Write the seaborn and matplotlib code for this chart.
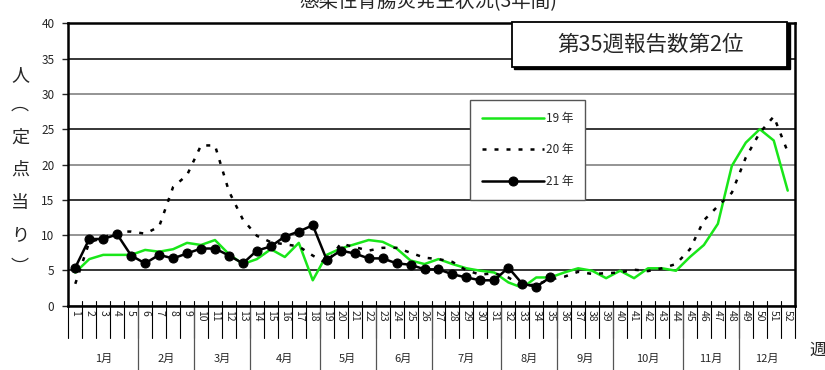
import numpy as np
import pandas as pd
import matplotlib
matplotlib.use("Agg")
import matplotlib.pyplot as plt
import seaborn as sns
from matplotlib.patches import Rectangle

# データ(定点当り報告数)
weeks = list(range(1, 53))
y19 = [4.7, 6.6, 7.2, 7.2, 7.2, 7.9, 7.65, 8.0, 8.9, 8.6,
       9.3, 7.3, 5.9, 6.6, 8.0, 6.9, 8.9, 3.6, 7.2, 8.1,
       8.7, 9.3, 9.05, 8.1, 6.4, 5.9, 6.6, 5.9, 5.3, 4.95,
       4.7, 3.3, 2.55, 4.0, 4.0, 4.7, 5.3, 4.95, 3.9, 4.95,
       3.9, 5.3, 5.3, 4.95, 6.9, 8.6, 11.6, 19.8, 23.1, 25.0,
       23.4, 16.3]
y20 = [3.1, 9.0, 9.6, 10.5, 10.5, 10.2, 11.2, 16.8, 18.5, 22.7,
       22.7, 16.2, 12.2, 9.9, 9.0, 8.7, 8.4, 7.1, 6.0, 8.8,
       8.3, 7.8, 8.2, 8.2, 7.5, 6.8, 6.6, 6.2, 5.0, 4.4,
       4.6, 4.0, 2.8, 3.0, 3.7, 4.1, 4.8, 4.5, 4.6, 4.7,
       5.1, 4.9, 5.3, 5.9, 8.0, 12.1, 14.1, 16.0, 21.0, 24.5,
       26.8, 21.8]
y21 = [5.4, 9.45, 9.45, 10.1, 7.1, 6.0, 7.2, 6.7, 7.4, 8.1,
       8.1, 7.1, 6.0, 7.8, 8.4, 9.8, 10.5, 11.4, 6.5, 7.8,
       7.4, 6.7, 6.7, 6.0, 5.8, 5.15, 5.15, 4.45, 4.0, 3.6,
       3.6, 5.4, 3.1, 2.7, 4.0]
months = ["1月", "2月", "3月", "4月", "5月", "6月",
          "7月", "8月", "9月", "10月", "11月", "12月"]
weeks_per_month = [5, 4, 4, 5, 4, 4, 5, 4, 4, 5, 4, 4]
series_labels = ["19 年", "20 年", "21 年"]
yticks = [0, 5, 10, 15, 20, 25, 30, 35, 40]

title = "感染性胃腸炎発生状況(3年間)"
note = "第35週報告数第2位"
ylabel_chars = ["人", "︵", "定", "点", "当", "り", "︶"]

sns.set_style("white")
plt.rcParams['font.family'] = ['Noto Sans CJK JP', 'DejaVu Sans']

fig = plt.figure(figsize=(8.25, 3.7), dpi=100)
ax = fig.add_axes([68.3 / 825, 1 - 305.7 / 370, 726.4 / 825, 282.4 / 370])

# 折れ線
sns.lineplot(x=weeks, y=y19, ax=ax, color="#19e619", lw=1.8, label=series_labels[0])
sns.lineplot(x=weeks, y=y20, ax=ax, color="black", lw=1.8,
             linestyle=(0, (1.6, 3.2)), label=series_labels[1])
sns.lineplot(x=weeks[:len(y21)], y=y21, ax=ax, color="black", lw=1.8,
             marker="o", markersize=6.5, markeredgecolor="black", label=series_labels[2])

ax.set_xlim(0.5, 52.5)
ax.set_ylim(0, 40)
ax.set_yticks(yticks)
ax.set_yticklabels([str(t) for t in yticks], fontsize=8.5)
ax.tick_params(axis="y", length=4, width=1, direction="out", pad=6, left=True)
ax.set_xticks(weeks)
ax.set_xticklabels([str(w) for w in weeks], rotation=-90, fontsize=7.5)
ax.tick_params(axis="x", length=0, pad=3)
ax.set_xlabel("")
ax.set_ylabel("")

# 目盛線
ax.yaxis.grid(True)
for i, gl in enumerate(ax.get_ygridlines()):
    gl.set_color("black" if i % 2 == 1 else "#777777")
    gl.set_linewidth(1.1)
ax.set_axisbelow(True)

for s in ax.spines.values():
    s.set_linewidth(1.8)
    s.set_color("black")

# 週の区切り線と月の区切り線
trans = ax.get_xaxis_transform()
bounds = np.cumsum(weeks_per_month) + 0.5
for b in np.arange(0.5, 53, 1.0):
    ax.plot([b, b], [0.015, -0.113], transform=trans, color="black",
            lw=0.8, clip_on=False)
for b in bounds[:-1]:
    ax.plot([b, b], [0, -0.3], transform=trans, color="#555555",
            lw=0.9, clip_on=False)
starts = np.concatenate([[0.5], bounds[:-1]])
for m, s, e in zip(months, starts, bounds):
    ax.text((s + e) / 2, -0.19, m, transform=trans, ha="center",
            va="center", fontsize=8)

fig.text(818 / 825, 1 - 350 / 370, "週", ha="center", va="center", fontsize=12)

# 凡例
leg = ax.legend(loc="upper left", bbox_to_anchor=(0.553, 0.727), fontsize=8.5,
                handlelength=5.3, handletextpad=0.1, labelspacing=1.55,
                borderpad=1.0, borderaxespad=0, fancybox=False, framealpha=1)
leg.get_frame().set_edgecolor("#555555")
leg.get_frame().set_linewidth(1.0)

# 縦書きの軸ラベル
ypos = [75, 105, 138, 170, 203, 235, 268]
for ch, yp in zip(ylabel_chars, ypos):
    fig.text(20 / 825, 1 - yp / 370, ch, ha="center", va="center",
             fontsize=13)

# 注記ボックス
fig.patches.append(Rectangle((514 / 825, 1 - 69 / 370), 275.6 / 825, 45 / 370,
                             transform=fig.transFigure, facecolor="black",
                             edgecolor="black", zorder=5))
fig.patches.append(Rectangle((511.7 / 825, 1 - 66.7 / 370), 275.6 / 825, 45 / 370,
                             transform=fig.transFigure, facecolor="white",
                             edgecolor="black", lw=1.3, zorder=6))
fig.text(650 / 825, 1 - 44.5 / 370, note, ha="center", va="center",
         fontsize=15.5, zorder=7)

# タイトル(上部が切れている)
fig.text(428 / 825, 0.996, title, ha="center", va="center", fontsize=14)

fig.savefig("out.png", dpi=100)
